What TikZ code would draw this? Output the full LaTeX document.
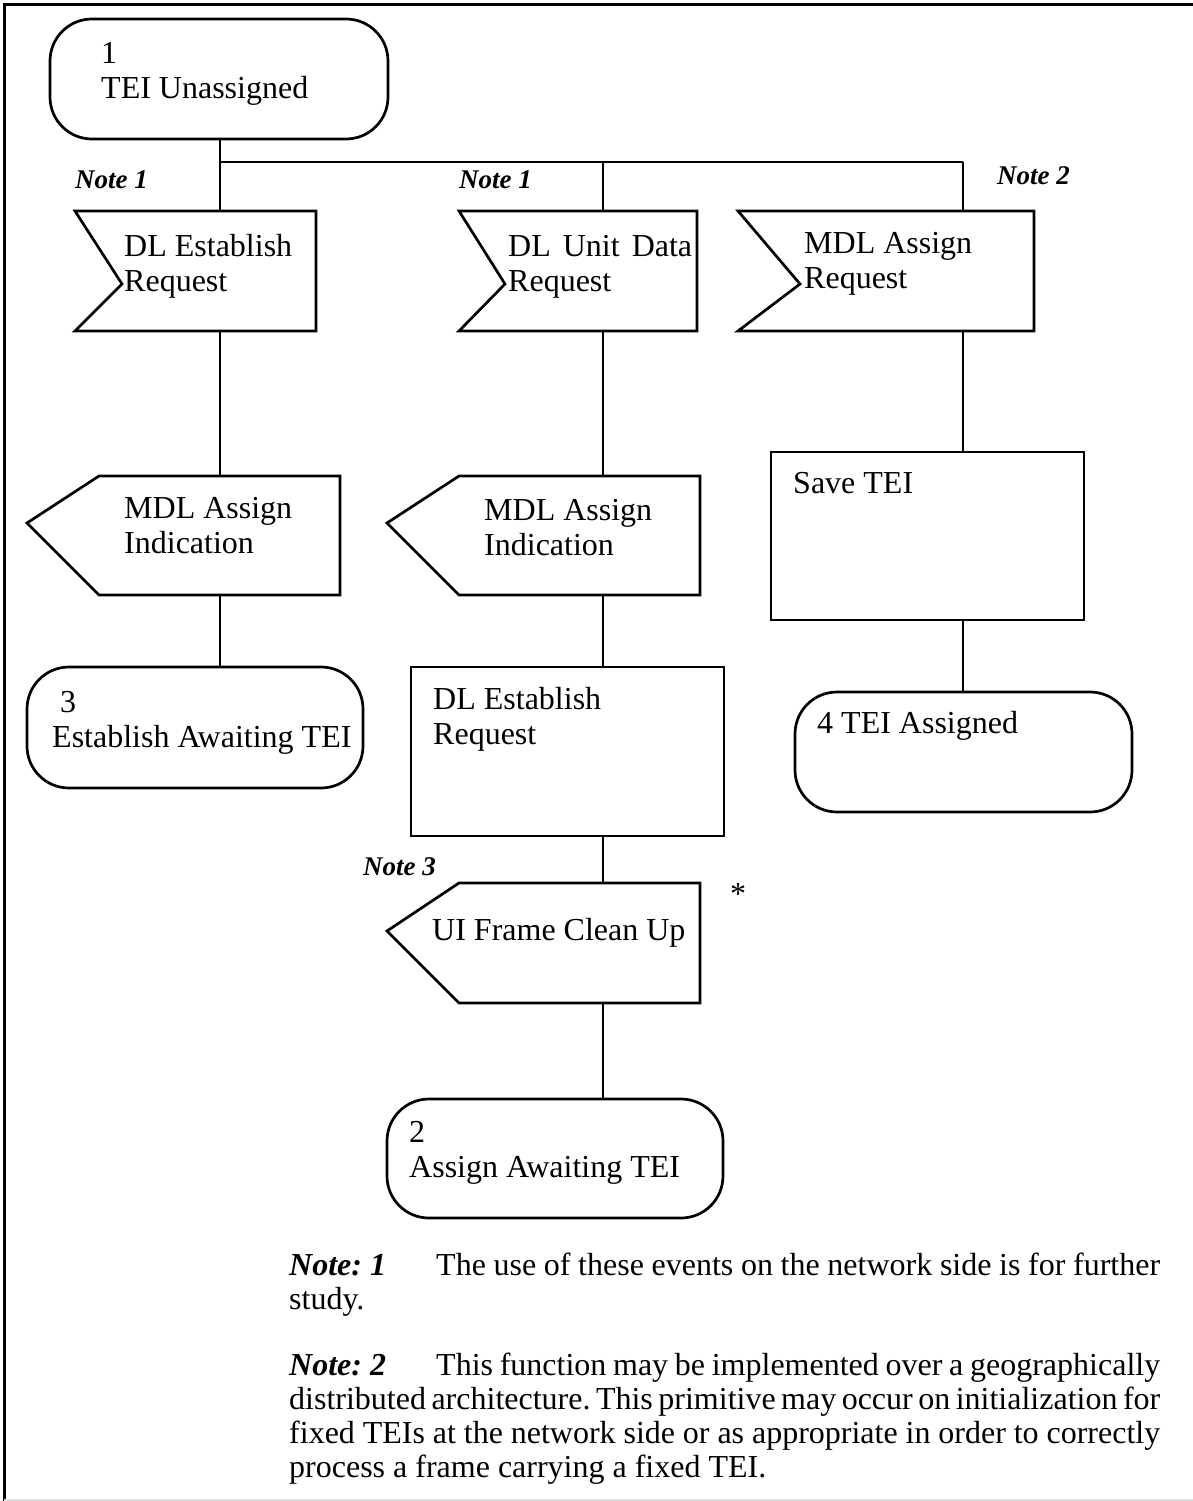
\documentclass[tikz,border=0pt]{standalone}
\usepackage{fontspec}
\setmainfont{Liberation Serif}
\usetikzlibrary{calc}
\begin{document}
\begin{tikzpicture}[x=1pt,y=-1pt,
  shapeline/.style={line width=2.7pt, line join=miter},
  wire/.style={line width=2.7pt},
  frameline/.style={line width=3pt},
  bbox/.style={inner sep=0pt, outer sep=0pt, anchor=north west},
  stateshape/.style={bbox, draw, line width=2.7pt, rounded corners=42pt},
  taskshape/.style={bbox, draw, line width=2.7pt},
  lbl/.style={anchor=base west, inner sep=0pt, align=left, font=\fontsize{32}{35}\selectfont},
  notelbl/.style={anchor=base west, inner sep=0pt, font=\fontsize{27}{30}\selectfont\bfseries\itshape},
  notetext/.style={anchor=base west, inner sep=0pt, text width=871pt, align=justify, font=\fontsize{32}{34}\selectfont}
]
\useasboundingbox (0,0) rectangle (1193,1501);
% frame
\draw[frameline] (4,1510) -- (4,5) -- (1210,5);
\draw[gray!25, line width=1.5pt] (4,1500) -- (1200,1500);

% columns
\coordinate (col1) at (220,0);
\coordinate (col2) at (603,0);
\coordinate (col3) at (963,0);
\coordinate (br1) at (220,162);
\coordinate (br2) at (603,162);
\coordinate (br3) at (963,162);

% state 1
\node[stateshape, minimum width=338pt, minimum height=120pt] (s1) at (50,19) {};
\node[lbl] (s1t) at (101,99) {1\\TEI Unassigned};

% inputs
\node[bbox, minimum width=241pt, minimum height=120pt] (in1) at (75,211) {};
\draw[shapeline] (in1.north west) -- (in1.north east) -- (in1.south east) -- (in1.south west) -- ([xshift=47pt,yshift=-73pt]in1.north west) -- cycle;
\node[lbl] (in1t) at (124,291) {DL Establish\\Request};

\node[bbox, minimum width=238pt, minimum height=120pt] (in2) at (459,211) {};
\draw[shapeline] (in2.north west) -- (in2.north east) -- (in2.south east) -- (in2.south west) -- ([xshift=46pt,yshift=-73pt]in2.north west) -- cycle;
\node[lbl] (in2t) at (508,291) {\makebox[184pt][s]{DL Unit Data}\\Request};

\node[bbox, minimum width=296pt, minimum height=120pt] (in3) at (738,211) {};
\draw[shapeline] (in3.north west) -- (in3.north east) -- (in3.south east) -- (in3.south west) -- ([xshift=62pt,yshift=-73pt]in3.north west) -- cycle;
\node[lbl] (in3t) at (804,288) {MDL Assign\\Request};

% outputs
\node[bbox, minimum width=313pt, minimum height=119pt] (out1) at (27,476) {};
\draw[shapeline] ([yshift=-47pt]out1.north west) -- ([xshift=72pt]out1.north west) -- (out1.north east) -- (out1.south east) -- ([xshift=72pt]out1.south west) -- cycle;
\node[lbl] (out1t) at (124,553) {MDL Assign\\Indication};

\node[bbox, minimum width=313pt, minimum height=119pt] (out2) at (387,476) {};
\draw[shapeline] ([yshift=-47pt]out2.north west) -- ([xshift=72pt]out2.north west) -- (out2.north east) -- (out2.south east) -- ([xshift=72pt]out2.south west) -- cycle;
\node[lbl] (out2t) at (484,555) {MDL Assign\\Indication};

\node[bbox, minimum width=313pt, minimum height=120pt] (out3) at (387,883) {};
\draw[shapeline] ([yshift=-48pt]out3.north west) -- ([xshift=72pt]out3.north west) -- (out3.north east) -- (out3.south east) -- ([xshift=72pt]out3.south west) -- cycle;
\node[lbl] (out3t) at (432,940) {UI Frame Clean Up};
\node[anchor=base, inner sep=0pt, font=\fontsize{32}{35}\selectfont] (star) at (738,904) {*};

% tasks
\node[taskshape, minimum width=313pt, minimum height=169pt] (task1) at (411,667) {};
\node[lbl] (task1t) at (433,744) {DL Establish\\Request};
\node[taskshape, minimum width=313pt, minimum height=168pt] (save) at (771,452) {};
\node[lbl] (savet) at (793,493) {Save TEI};

% states
\node[stateshape, minimum width=336pt, minimum height=121pt] (s3) at (27,667) {};
\node[lbl] (s3t) at (52,747) {\hspace*{8pt}3\\Establish Awaiting TEI};
\node[stateshape, minimum width=337pt, minimum height=120pt] (s4) at (795,692) {};
\node[lbl] (s4t) at (817,733) {4 TEI Assigned};
\node[stateshape, minimum width=336pt, minimum height=119pt] (s2) at (387,1099) {};
\node[lbl] (s2t) at (409,1177) {2\\Assign Awaiting TEI};

% connectors
\draw[wire] (s1.south -| col1) -- (in1.north -| col1);
\draw[wire] (br1) -- (br3);
\draw[wire] (br2) -- (in2.north -| col2);
\draw[wire] (br3) -- (in3.north -| col3);
\draw[wire] (in1.south -| col1) -- (out1.north -| col1);
\draw[wire] (out1.south -| col1) -- (s3.north -| col1);
\draw[wire] (in2.south -| col2) -- (out2.north -| col2);
\draw[wire] (out2.south -| col2) -- (task1.north -| col2);
\draw[wire] (task1.south -| col2) -- (out3.north -| col2);
\draw[wire] (out3.south -| col2) -- (s2.north -| col2);
\draw[wire] (in3.south -| col3) -- (save.north -| col3);
\draw[wire] (save.south -| col3) -- (s4.north -| col3);

% note labels
\node[notelbl] (n1a) at (75,188) {Note 1};
\node[notelbl] (n1b) at (459,188) {Note 1};
\node[notelbl] (n2) at (997,184) {Note 2};
\node[notelbl] (n3) at (363,875) {Note 3};

% notes
\node[notetext] (notes) at (289,1275) {\frenchspacing\hyphenpenalty=10000\relax\makebox[147pt][l]{\textbf{\textit{Note: 1}}}The use of these events on the network side is for further\linebreak study.\\[32pt]\makebox[147pt][l]{\textbf{\textit{Note: 2}}}This function may be implemented over a geographically\linebreak {\spaceskip=0.15em plus 0.5em minus 0.02em\relax distributed architecture. This primitive may occur on initialization for}\linebreak fixed TEIs at the network side or as appropriate in order to correctly\linebreak process a frame carrying a fixed TEI.};
\end{tikzpicture}
\end{document}
